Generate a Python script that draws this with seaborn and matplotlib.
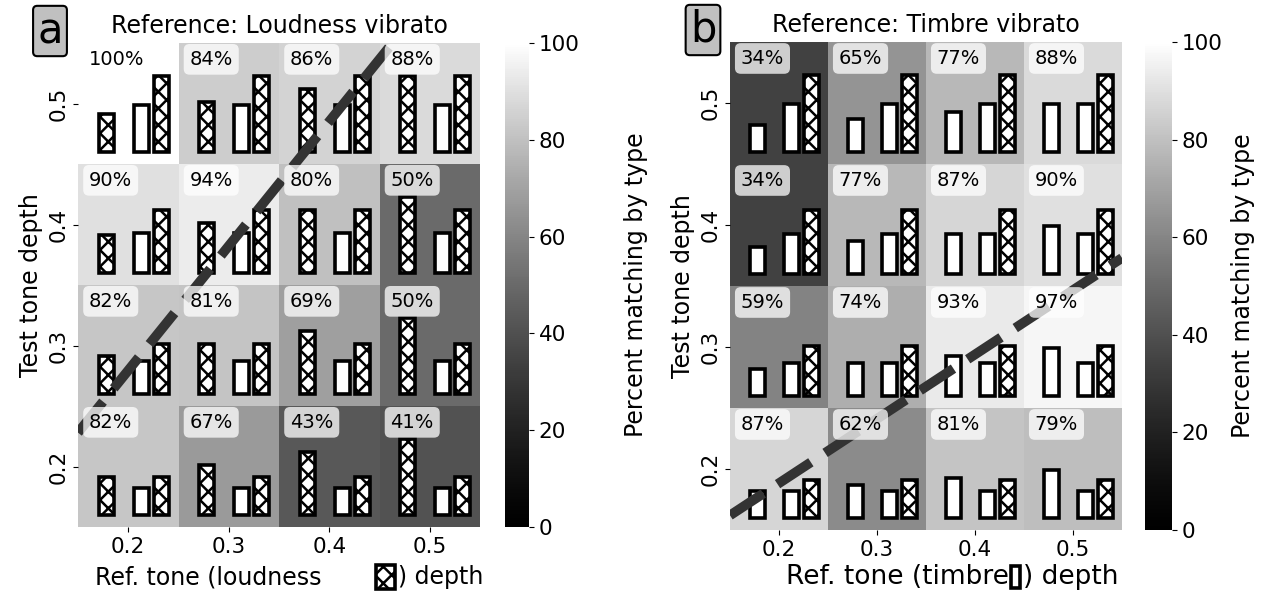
import numpy as np
import pandas as pd
import matplotlib
matplotlib.use("Agg")
import matplotlib.pyplot as plt
import seaborn as sns
from matplotlib.colors import ListedColormap
from matplotlib.patches import Rectangle
from matplotlib.offsetbox import TextArea, DrawingArea, HPacker, AnnotationBbox

# ---------------- data ----------------
ref_depths = [0.2, 0.3, 0.4, 0.5]          # columns (reference tone depth)
test_depths = [0.5, 0.4, 0.3, 0.2]         # rows, top to bottom (test tone depth)
ref_labels = ["0.2", "0.3", "0.4", "0.5"]
test_labels = ["0.5", "0.4", "0.3", "0.2"]

pct_loudness_ref = [[100, 84, 86, 88],
                    [90, 94, 80, 50],
                    [82, 81, 69, 50],
                    [82, 67, 43, 41]]
pct_timbre_ref = [[34, 65, 77, 88],
                  [34, 77, 87, 90],
                  [59, 74, 93, 97],
                  [87, 62, 81, 79]]

# glyph bar heights (fraction of a cell) for depths 0.2 .. 0.5
loud_bar = [0.31, 0.41, 0.52, 0.63]
timbre_bar = [0.22, 0.27, 0.33, 0.39]

# equal-salience dashed lines (ref depth, test depth)
eq_a_x = [0.15, 0.463]
eq_a_y = [0.228, 0.55]
eq_b_x = [0.15, 0.55]
eq_b_y = [0.162, 0.373]

cbar_ticks = [0, 20, 40, 60, 80, 100]

# ---------------- figure ----------------
plt.rcParams['hatch.linewidth'] = 1.8
W, H = 1266, 592
fig = plt.figure(figsize=(W / 100, H / 100), dpi=100)

_lv = np.linspace(0, 1, 256) ** 1.27
gray_cmap = ListedColormap(np.column_stack([_lv, _lv, _lv]), name="gray_g")


def rect(l, t, r, b):
    return [l / W, 1 - b / H, (r - l) / W, (b - t) / H]


ax_a = fig.add_axes(rect(78, 43, 480, 527))
cax_a = fig.add_axes(rect(505, 43, 529, 527))
ax_b = fig.add_axes(rect(730, 42, 1122, 530))
cax_b = fig.add_axes(rect(1145, 42, 1172, 530))

BW = 0.15
EDGE = 2.6
HATCH = "xx"


def panel(ax, cax, pct, ref_kind, title, cb_pad, eqx, eqy):
    df = pd.DataFrame(pct, index=test_labels, columns=ref_labels)
    sns.heatmap(df, ax=ax, cbar_ax=cax, cmap=gray_cmap, vmin=0, vmax=100,
                cbar_kws=dict(ticks=cbar_ticks))
    ncol = len(ref_depths)
    xs = np.arange(ncol)
    for r, td in enumerate(test_depths):
        ti = ref_depths.index(td)
        base = r + 0.9
        if ref_kind == "loud":
            h1 = [-loud_bar[c] for c in range(ncol)]
            hatch1 = HATCH
        else:
            h1 = [-timbre_bar[c] for c in range(ncol)]
            hatch1 = None
        ax.bar(xs + 0.28, h1, bottom=base, width=BW, facecolor="white",
               edgecolor="black", linewidth=EDGE, hatch=hatch1, zorder=2)
        ax.bar(xs + 0.63, [-timbre_bar[ti]] * ncol, bottom=base, width=BW,
               facecolor="white", edgecolor="black", linewidth=EDGE, zorder=2)
        ax.bar(xs + 0.83, [-loud_bar[ti]] * ncol, bottom=base, width=BW,
               facecolor="white", edgecolor="black", linewidth=EDGE,
               hatch=HATCH, zorder=2)
        for c in range(ncol):
            ax.text(c + 0.11, r + 0.135, f"{pct[r][c]}%", ha="left", va="center",
                    fontsize=14, zorder=5,
                    bbox=dict(boxstyle="round,pad=0.3", fc="white", ec="none",
                              alpha=0.75))
    lx = (np.array(eqx) - 0.15) / 0.1
    ly = (0.55 - np.array(eqy)) / 0.1
    ax.plot(lx, ly, color="0.2", lw=7, dashes=(4.1, 1.75), zorder=4)
    ax.set_xlim(0, 4)
    ax.set_ylim(4, 0)
    ax.set_xticks(np.arange(4) + 0.5)
    ax.set_xticklabels(ref_labels)
    ax.set_yticks(np.arange(4) + 0.5)
    ax.set_yticklabels(test_labels, rotation=90, va="center")
    ax.tick_params(labelsize=15.5)
    ax.set_xlabel("")
    ax.set_ylabel("Test tone depth", fontsize=17)
    ax.set_title(title, fontsize=17, pad=7)
    cax.tick_params(labelsize=15.5)
    cax.set_ylabel("Percent matching by type", fontsize=17, labelpad=cb_pad)


panel(ax_a, cax_a, pct_loudness_ref, "loud", "Reference: Loudness vibrato", 32,
      eq_a_x, eq_a_y)
panel(ax_b, cax_b, pct_timbre_ref, "timbre", "Reference: Timbre vibrato", 6,
      eq_b_x, eq_b_y)


def xlabel_glyph(ax, x0_px, y_px, pre, gap_pt, gw, gh, hatch, fs):
    t1 = TextArea(pre, textprops=dict(fontsize=fs))
    da = DrawingArea(gap_pt + gw + 2.0, gh, 0, 0)
    da.add_artist(Rectangle((gap_pt, 0), gw, gh, facecolor="white",
                            edgecolor="black", linewidth=EDGE, hatch=hatch))
    t2 = TextArea(") depth", textprops=dict(fontsize=fs))
    pk = HPacker(children=[t1, da, t2], align="center", pad=0, sep=0)
    ab = AnnotationBbox(pk, (x0_px / W, 1 - y_px / H), xycoords="figure fraction",
                        box_alignment=(0, 0.5), frameon=False, pad=0,
                        annotation_clip=False)
    ax.add_artist(ab)


xlabel_glyph(ax_a, 95, 577, "Ref. tone (loudness", 39, 14, 17, HATCH, 17)
xlabel_glyph(ax_b, 786, 577, "Ref. tone (timbre", 1.2, 7, 16, None, 19)

for lab, xc, yc in [("a", 50, 31), ("b", 703, 30)]:
    fig.text(xc / W, 1 - yc / H, lab, fontsize=30, ha="center", va="center",
             bbox=dict(boxstyle="round,pad=0.1", fc="#c0c0c0", ec="black", lw=1.5))

fig.savefig("out.png", dpi=100)
